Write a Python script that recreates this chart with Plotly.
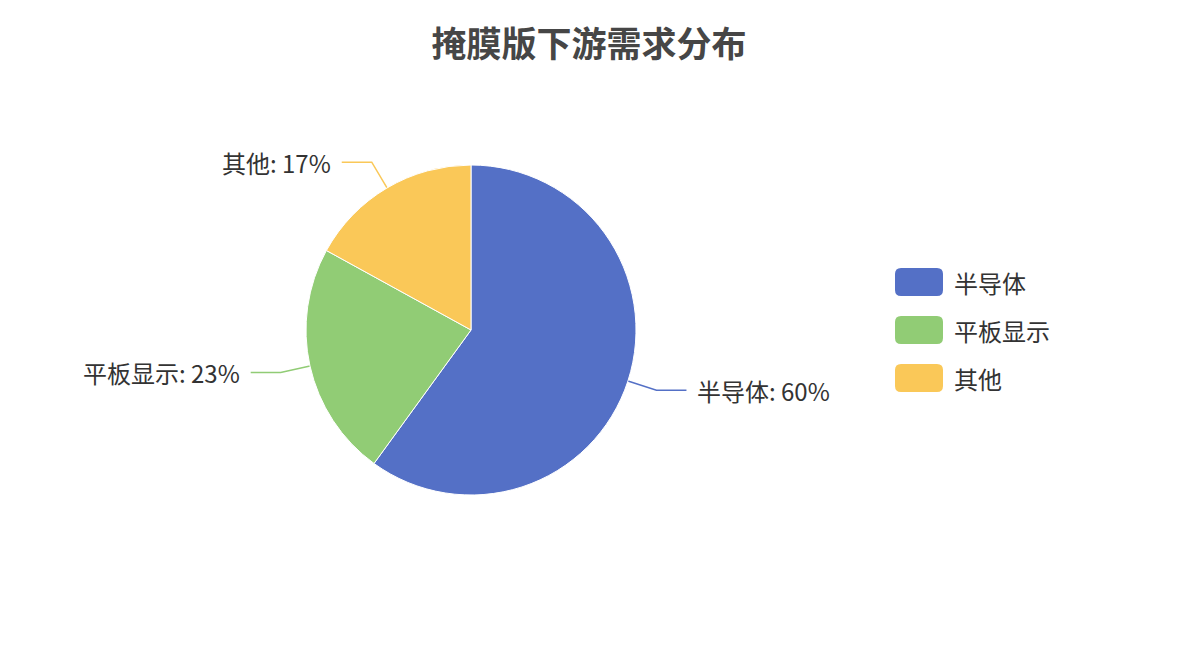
import math

import plotly.graph_objects as go

labels = ["半导体", "平板显示", "其他"]
values = [60, 23, 17]
colors = ["#5470c6", "#91cc75", "#fac858"]
title = "掩膜版下游需求分布"

W, H = 1178, 662
CX, CY, R = 471, 330, 165
LINE1, LINE2, GAP = 30, 30, 9
FONT = "Noto Sans CJK SC, Microsoft YaHei, sans-serif"
TEXT_COLOR = "#333333"

fig = go.Figure()
fig.add_trace(
    go.Pie(
        labels=labels,
        values=values,
        sort=False,
        direction="clockwise",
        rotation=0,
        marker={"colors": colors, "line": {"color": "#ffffff", "width": 1}},
        textinfo="none",
        hovertemplate="%{label}: %{value} (%{percent})<extra></extra>",
        showlegend=False,
        domain={
            "x": [(CX - R) / W, (CX + R) / W],
            "y": [1 - (CY + R) / H, 1 - (CY - R) / H],
        },
    )
)

# leader lines + outside labels, positioned from the slice mid-angles
total = sum(values)
start = 0
for label, value, color in zip(labels, values, colors):
    mid = (start + value / 2) / total * 2 * math.pi
    start += value
    dx, dy = math.sin(mid), -math.cos(mid)  # pixel space, y grows down
    x0, y0 = CX + R * dx, CY + R * dy
    x1, y1 = CX + (R + LINE1) * dx, CY + (R + LINE1) * dy
    side = 1 if dx >= 0 else -1
    x2 = x1 + side * LINE2
    fig.add_trace(
        go.Scatter(
            x=[x0, x1, x2],
            y=[y0, y1, y1],
            mode="lines",
            line={"color": color, "width": 1.5},
            hoverinfo="skip",
            showlegend=False,
        )
    )
    fig.add_annotation(
        x=x2 + side * GAP,
        y=y1,
        text=f"{label}: {value / total:.0%}",
        xanchor="left" if side > 0 else "right",
        yanchor="middle",
        showarrow=False,
        font={"family": FONT, "size": 24, "color": TEXT_COLOR},
    )

# legend drawn by hand: big rounded swatches like the original
LEG_X, LEG_Y, LEG_STEP = 895, 282, 48
SW_W, SW_H, SW_R = 48, 28, 6
for i, (label, color) in enumerate(zip(labels, colors)):
    yc = LEG_Y + i * LEG_STEP
    x_l, x_r = LEG_X, LEG_X + SW_W
    y_t, y_b = yc - SW_H / 2, yc + SW_H / 2
    path = (
        f"M {x_l + SW_R},{y_t} L {x_r - SW_R},{y_t} Q {x_r},{y_t} {x_r},{y_t + SW_R} "
        f"L {x_r},{y_b - SW_R} Q {x_r},{y_b} {x_r - SW_R},{y_b} "
        f"L {x_l + SW_R},{y_b} Q {x_l},{y_b} {x_l},{y_b - SW_R} "
        f"L {x_l},{y_t + SW_R} Q {x_l},{y_t} {x_l + SW_R},{y_t} Z"
    )
    fig.add_shape(
        type="path", path=path, xref="x", yref="y",
        fillcolor=color, line={"width": 0},
    )
    fig.add_annotation(
        x=x_r + 9,
        y=yc,
        text=label,
        xanchor="left",
        yanchor="middle",
        showarrow=False,
        font={"family": FONT, "size": 24, "color": TEXT_COLOR},
    )

fig.update_layout(
    width=W,
    height=H,
    margin={"l": 0, "r": 0, "t": 0, "b": 0},
    paper_bgcolor="#ffffff",
    plot_bgcolor="#ffffff",
    title={
        "text": f"<b>{title}</b>",
        "x": 0.5,
        "xanchor": "center",
        "y": 1 - 45 / H,
        "yanchor": "middle",
        "font": {"family": FONT, "size": 35, "color": "#464646"},
    },
    xaxis={"range": [0, W], "visible": False, "fixedrange": True},
    yaxis={"range": [H, 0], "visible": False, "fixedrange": True},
)

# the page's default body margin shifts the chart by 8px; drop it
fig.write_html(
    "out.html",
    config={"displayModeBar": False},
    post_script="document.body.style.margin = '0';",
)
